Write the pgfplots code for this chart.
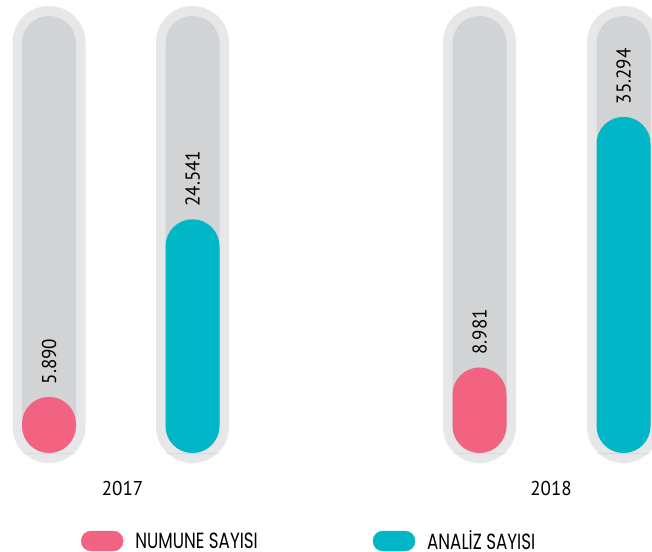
\documentclass[border=0pt]{standalone}
\usepackage{pgfplots}
\pgfplotsset{compat=1.18}
\usepackage{fontspec}
\setmainfont{PT Sans}
\newfontfamily\numfont[FakeStretch=0.95]{PT Sans}
\newfontfamily\legfont[FakeStretch=0.76]{Poppins}
\definecolor{pinkc}{RGB}{241,99,128}
\definecolor{tealc}{RGB}{0,182,199}
\definecolor{trackin}{RGB}{209,211,212}
\definecolor{trackout}{RGB}{230,231,232}
\begin{document}
\begin{tikzpicture}
\useasboundingbox (0,0) rectangle (652pt,551pt);
\begin{axis}[at={(0,0)}, anchor=south west, scale only axis,
  width=652pt, height=551pt,
  xmin=0, xmax=652, ymin=-10290, ymax=47565,
  hide axis, clip=true,
  legend columns=2,
  legend style={at={(axis cs:81,-9240)}, anchor=west, draw=none, fill=none,
    inner sep=0pt, outer sep=0pt,
    font=\legfont\fontsize{22}{24}\selectfont,
    nodes={inner sep=0pt},
    /tikz/every odd column/.append style={column sep=12pt},
    /tikz/every even column/.append style={column sep=115pt}},
]
% outer tracks
\addplot[draw=none, fill=trackout, rounded corners=36.5pt, forget plot] coordinates {(49,-1050) (85.5,-1050) (85.5,46935) (12.5,46935) (12.5,-1050)} -- cycle;
\addplot[draw=none, fill=trackout, rounded corners=36.5pt, forget plot] coordinates {(192.5,-1050) (229,-1050) (229,46935) (156,46935) (156,-1050)} -- cycle;
\addplot[draw=none, fill=trackout, rounded corners=36.5pt, forget plot] coordinates {(479.5,-1050) (516,-1050) (516,46935) (443,46935) (443,-1050)} -- cycle;
\addplot[draw=none, fill=trackout, rounded corners=36.5pt, forget plot] coordinates {(623.5,-1050) (660,-1050) (660,46935) (587,46935) (587,-1050)} -- cycle;
% inner tracks
\addplot[draw=none, fill=trackin, rounded corners=27pt, forget plot] coordinates {(49,0) (76,0) (76,45885) (22,45885) (22,0)} -- cycle;
\addplot[draw=none, fill=trackin, rounded corners=27pt, forget plot] coordinates {(192.5,0) (219.5,0) (219.5,45885) (165.5,45885) (165.5,0)} -- cycle;
\addplot[draw=none, fill=trackin, rounded corners=27pt, forget plot] coordinates {(479.5,0) (506.5,0) (506.5,45885) (452.5,45885) (452.5,0)} -- cycle;
\addplot[draw=none, fill=trackin, rounded corners=27pt, forget plot] coordinates {(623.5,0) (650.5,0) (650.5,45885) (596.5,45885) (596.5,0)} -- cycle;
% NUMUNE SAYISI
\addplot[draw=none, fill=pinkc, rounded corners=27pt, forget plot] coordinates {(49,0) (76,0) (76,5890) (22,5890) (22,0)} -- cycle;
\addplot[draw=none, fill=pinkc, rounded corners=27pt, forget plot] coordinates {(479.5,0) (506.5,0) (506.5,8981) (452.5,8981) (452.5,0)} -- cycle;
% ANALIZ SAYISI
\addplot[draw=none, fill=tealc, rounded corners=27pt, forget plot] coordinates {(192.5,0) (219.5,0) (219.5,24541) (165.5,24541) (165.5,0)} -- cycle;
\addplot[draw=none, fill=tealc, rounded corners=27pt, forget plot] coordinates {(623.5,0) (650.5,0) (650.5,35294) (596.5,35294) (596.5,0)} -- cycle;
% value labels
\addplot[draw=none, forget plot, point meta=y,
  nodes near coords={\pgfmathprintnumber[fixed, precision=0, 1000 sep={.}, assume math mode=true]{\pgfplotspointmeta}},
  every node near coord/.append style={anchor=west, rotate=90, inner sep=0pt, xshift=12.5pt,
    font=\numfont\fontsize{20}{24}\selectfont, text=black}]
  coordinates {(49,5890) (192.5,24541) (479.5,8981) (623.5,35294)};
% years
\node[font=\numfont\fontsize{20}{24}\selectfont] at (axis cs:122.5,-3675) {2017};
\node[font=\numfont\fontsize{20}{24}\selectfont] at (axis cs:551,-3675) {2018};
% legend
\addlegendimage{legend image code/.code={\fill[pinkc, rounded corners=10pt] (0pt,-10pt) rectangle (42pt,10pt);}}
\addlegendentry{NUMUNE SAYISI}
\addlegendimage{legend image code/.code={\fill[tealc, rounded corners=10pt] (0pt,-10pt) rectangle (42pt,10pt);}}
\addlegendentry{ANALİZ SAYISI}
\end{axis}
\end{tikzpicture}
\end{document}
